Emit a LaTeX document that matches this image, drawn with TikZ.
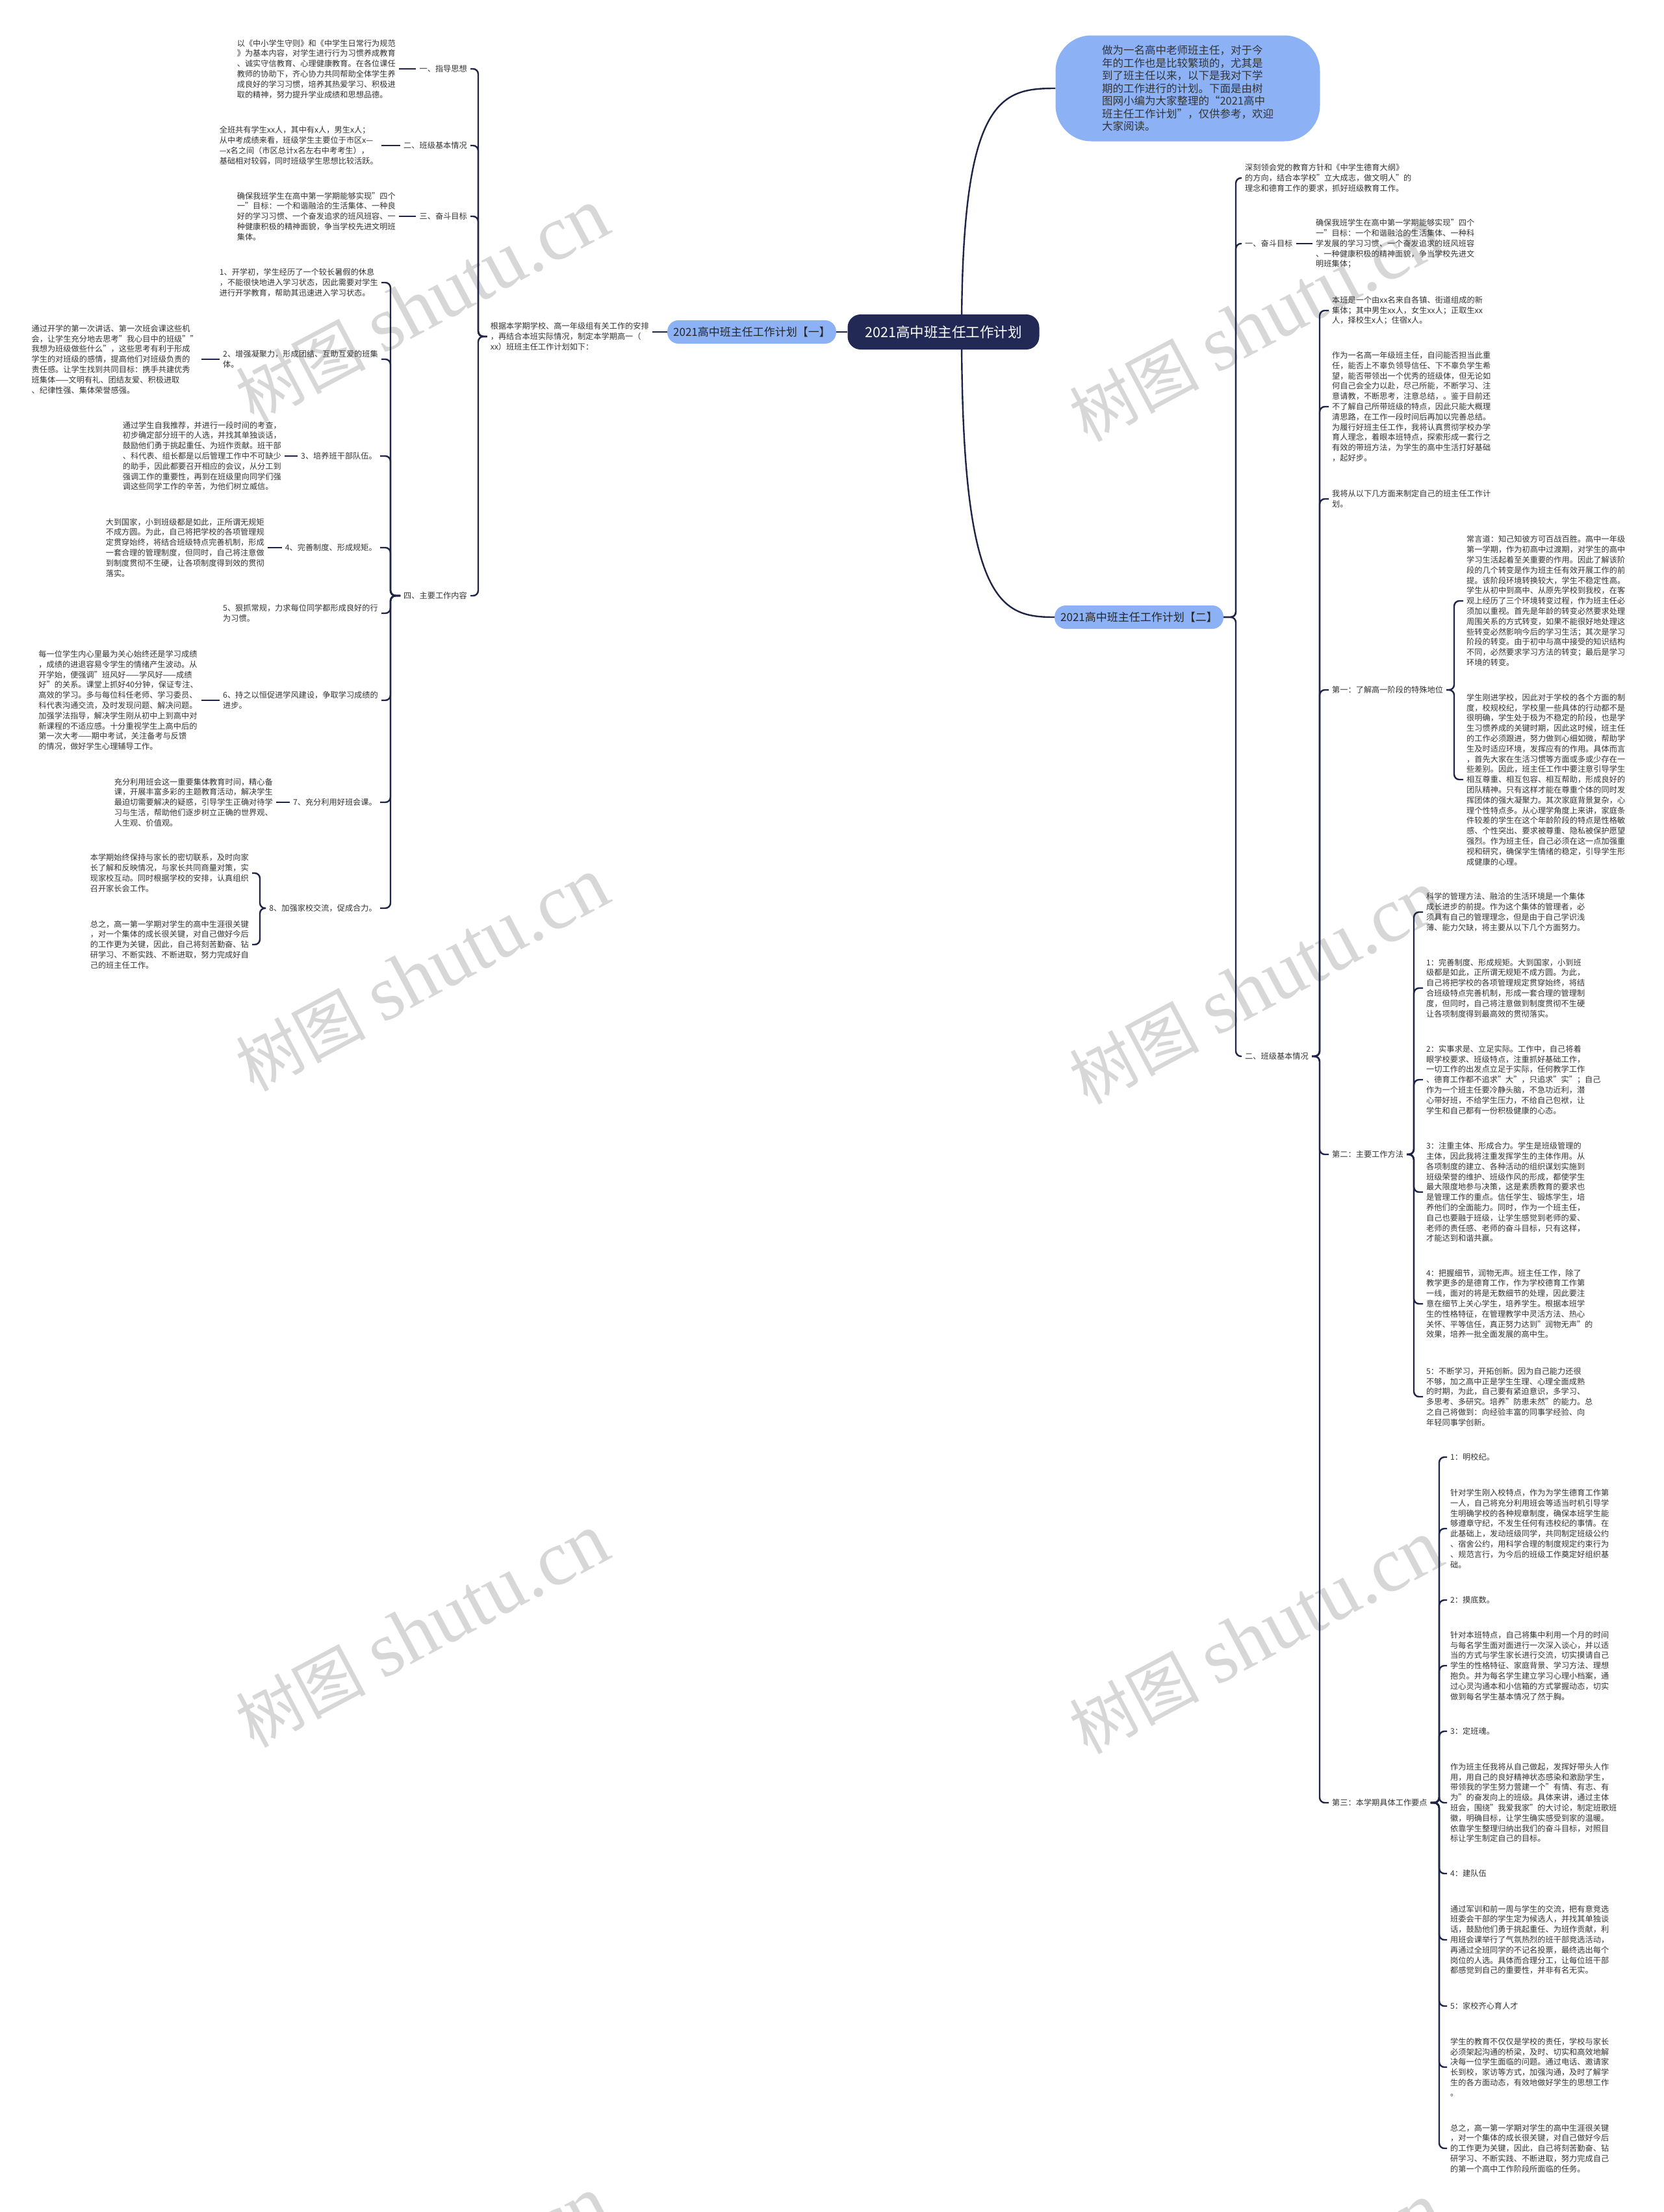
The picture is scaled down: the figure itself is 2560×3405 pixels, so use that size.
\documentclass[tikz,border=0pt]{standalone}
\usepackage{fontspec}
\setmainfont{Noto Sans CJK SC}
\newfontfamily\wmlat{Liberation Serif}
\definecolor{linec}{RGB}{30,36,70}
\definecolor{rootc}{RGB}{33,41,84}
\definecolor{bluec}{RGB}{140,178,245}
\definecolor{txtc}{RGB}{51,51,51}
\definecolor{wmc}{RGB}{215,215,215}
\pgfdeclarelayer{wm}\pgfdeclarelayer{back}\pgfsetlayers{wm,back,main}
\begin{document}
\begin{tikzpicture}[x=1pt,y=-1pt,
  txt/.style={font=\fontsize{12.2}{15.8}\selectfont, text=txtc, align=left, inner xsep=5pt, inner ysep=3pt},
  txtL/.style={txt, anchor=east},
  txtR/.style={txt, anchor=west},
  conn/.style={draw=linec, line width=2.4pt, rounded corners=8pt},
  bluenode/.style={fill=bluec, text=black!85, rounded corners=17pt, minimum height=36pt, inner xsep=9pt, font=\fontsize{17}{20}\selectfont},
  rootnode/.style={fill=rootc, text=white, rounded corners=20pt, minimum height=54pt, minimum width=295pt, font=\fontsize{21.5}{25}\selectfont},
  wmark/.style={text=wmc, rotate=28, inner sep=0pt}]
\useasboundingbox (0,0) rectangle (2560,3405);

% background and watermarks
\begin{pgfonlayer}{wm}
\fill[white] (0,0) rectangle (2560,3405);
\foreach \px/\py in {650/470,650/1500,650/2510,650/3530,1933/500,1933/1520,1933/2520,1933/3540}{
  \node[wmark] at (\px,\py) {\fontsize{100}{100}\selectfont 树图\hspace{25pt}{\wmlat\fontsize{120}{120}\selectfont shutu.cn}};
}
\end{pgfonlayer}

% bus coordinates
\coordinate (bB1) at (736,0);
\coordinate (bB2) at (601,0);
\coordinate (bB3) at (400,0);
\coordinate (bR1) at (1902,0);
\coordinate (bR2) at (2031,0);
\coordinate (bR3) at (2238,0);
\coordinate (bR4) at (2176,0);
\coordinate (bR5) at (2215,0);

% centre
\node[rootnode] (root) at (1452,511) {2021高中班主任工作计划};
\node[bluenode] (N1) at (1157,511) {2021高中班主任工作计划【一】};
\node[bluenode] (N2) at (1753,950) {2021高中班主任工作计划【二】};
\node[fill=bluec, rounded corners=55pt, minimum width=407pt, minimum height=163pt, text=txtc, align=left, font=\fontsize{16.5}{19.5}\selectfont] (bub) at (1828,136) {做为一名高中老师班主任，对于今\\年的工作也是比较繁琐的，尤其是\\到了班主任以来，以下是我对下学\\期的工作进行的计划。下面是由树\\图网小编为大家整理的“2021高中\\班主任工作计划”，仅供参考，欢迎\\大家阅读。};

% left branch
\node[txtL] (L0) at (1004,518) {根据本学期学校、高一年级组有关工作的安排\\，再结合本班实际情况，制定本学期高一（\\xx）班班主任工作计划如下：};

\node[txtL] (LA1) at (724,106) {一、指导思想};
\node[txtL] (LA1c) at (614,106) {以《中小学生守则》和《中学生日常行为规范\\》为基本内容，对学生进行行为习惯养成教育\\、诚实守信教育、心理健康教育。在各位课任\\教师的协助下，齐心协力共同帮助全体学生养\\成良好的学习习惯，培养其热爱学习、积极进\\取的精神，努力提升学业成绩和思想品德。};
\node[txtL] (LA2) at (724,224) {二、班级基本情况};
\node[txtL] (LA2c) at (587,224) {全班共有学生xx人，其中有x人，男生x人；\\从中考成绩来看，班级学生主要位于市区x—\\—x名之间（市区总计x名左右中考考生），\\基础相对较弱，同时班级学生思想比较活跃。};
\node[txtL] (LA3) at (724,333) {三、奋斗目标};
\node[txtL] (LA3c) at (614,333) {确保我班学生在高中第一学期能够实现"四个\\一"目标：一个和谐融洽的生活集体、一种良\\好的学习习惯、一个奋发追求的班风班容、一\\种健康积极的精神面貌，争当学校先进文明班\\集体。};
\node[txtL] (LA4) at (724,917) {四、主要工作内容};

\node[txtL] (I1) at (587,435) {1、开学初，学生经历了一个较长暑假的休息\\，不能很快地进入学习状态，因此需要对学生\\进行开学教育，帮助其迅速进入学习状态。};
\node[txtL] (I2) at (587,553) {2、增强凝聚力，形成团结、互助互爱的班集\\体。};
\node[txtL] (I2c) at (310,553) {通过开学的第一次讲话、第一次班会课这些机\\会，让学生充分地去思考"我心目中的班级""\\我想为班级做些什么"，这些思考有利于形成\\学生的对班级的感情，提高他们对班级负责的\\责任感。让学生找到共同目标：携手共建优秀\\班集体——文明有礼、团结友爱、积极进取\\、纪律性强、集体荣誉感强。};
\node[txtL] (I3) at (585,702) {3、培养班干部队伍。};
\node[txtL] (I3c) at (438,702) {通过学生自我推荐，并进行一段时间的考查，\\初步确定部分班干的人选，并找其单独谈话，\\鼓励他们勇于挑起重任、为班作贡献。班干部\\、科代表、组长都是以后管理工作中不可缺少\\的助手，因此都要召开相应的会议，从分工到\\强调工作的重要性，再到在班级里向同学们强\\调这些同学工作的辛苦，为他们树立威信。};
\node[txtL] (I4) at (585,843) {4、完善制度、形成规矩。};
\node[txtL] (I4c) at (412,843) {大到国家，小到班级都是如此，正所谓无规矩\\不成方圆。为此，自己将把学校的各项管理规\\定贯穿始终，将结合班级特点完善机制，形成\\一套合理的管理制度，但同时，自己将注意做\\到制度贯彻不生硬，让各项制度得到效的贯彻\\落实。};
\node[txtL] (I5) at (587,944) {5、狠抓常规，力求每位同学都形成良好的行\\为习惯。};
\node[txtL] (I6) at (587,1078) {6、持之以恒促进学风建设，争取学习成绩的\\进步。};
\node[txtL] (I6c) at (310,1078) {每一位学生内心里最为关心始终还是学习成绩\\，成绩的进退容易令学生的情绪产生波动。从\\开学始，便强调"班风好——学风好——成绩\\好"的关系。课堂上抓好40分钟，保证专注、\\高效的学习。多与每位科任老师、学习委员、\\科代表沟通交流，及时发现问题、解决问题。\\加强学法指导，解决学生刚从初中上到高中对\\新课程的不适应感。十分重视学生上高中后的\\第一次大考——期中考试，关注备考与反馈\\的情况，做好学生心理辅导工作。};
\node[txtL] (I7) at (585,1235) {7、充分利用好班会课。};
\node[txtL] (I7c) at (425,1235) {充分利用班会这一重要集体教育时间，精心备\\课，开展丰富多彩的主题教育活动，解决学生\\最迫切需要解决的疑惑，引导学生正确对待学\\习与生活，帮助他们逐步树立正确的世界观、\\人生观、价值观。};
\node[txtL] (I8) at (585,1398) {8、加强家校交流，促成合力。};
\node[txtL] (I8a) at (388,1344) {本学期始终保持与家长的密切联系，及时向家\\长了解和反映情况，与家长共同商量对策，实\\现家校互动。同时根据学校的安排，认真组织\\召开家长会工作。};
\node[txtL] (I8b) at (388,1454) {总之，高一第一学期对学生的高中生涯很关键\\，对一个集体的成长很关键，对自己做好今后\\的工作更为关键，因此，自己将刻苦勤奋、钻\\研学习、不断实践、不断进取，努力完成好自\\己的班主任工作。};

% right branch
\node[txtR] (RB1) at (1911,274) {深刻领会党的教育方针和《中学生德育大纲》\\的方向，结合本学校"立大成志，做文明人"的\\理念和德育工作的要求，抓好班级教育工作。};
\node[txtR] (RL1) at (1911,375) {一、奋斗目标};
\node[txtR] (RL1c) at (2020,375) {确保我班学生在高中第一学期能够实现"四个\\一"目标：一个和谐融洽的生活集体、一种科\\学发展的学习习惯、一个奋发追求的班风班容\\、一种健康积极的精神面貌，争当学校先进文\\明班集体；};
\node[txtR] (RL2) at (1911,1626) {二、班级基本情况};

\node[txtR] (RC1) at (2045,478) {本班是一个由xx名来自各镇、街道组成的新\\集体；其中男生xx人，女生xx人；正取生xx\\人，择校生x人；住宿x人。};
\node[txtR] (RC2) at (2045,626) {作为一名高一年级班主任，自问能否担当此重\\任，能否上不辜负领导信任、下不辜负学生希\\望，能否带领出一个优秀的班级体，但无论如\\何自己会全力以赴，尽己所能，不断学习、注\\意请教，不断思考，注意总结，。鉴于目前还\\不了解自己所带班级的特点，因此只能大概理\\清思路，在工作一段时间后再加以完善总结。\\为履行好班主任工作，我将认真贯彻学校办学\\育人理念，着眼本班特点，探索形成一套行之\\有效的带班方法，为学生的高中生活打好基础\\，起好步。};
\node[txtR] (RC3) at (2045,768) {我将从以下几方面来制定自己的班主任工作计\\划。};
\node[txtR] (RC4) at (2045,1062) {第一：了解高一阶段的特殊地位};
\node[txtR] (RC4a) at (2252,925) {常言道：知己知彼方可百战百胜。高中一年级\\第一学期，作为初高中过渡期，对学生的高中\\学习生活起着至关重要的作用。因此了解该阶\\段的几个转变是作为班主任有效开展工作的前\\提。该阶段环境转换较大，学生不稳定性高。\\学生从初中到高中、从原先学校到我校，在客\\观上经历了三个环境转变过程，作为班主任必\\须加以重视。首先是年龄的转变必然要求处理\\周围关系的方式转变，如果不能很好地处理这\\些转变必然影响今后的学习生活；其次是学习\\阶段的转变。由于初中与高中接受的知识结构\\不同，必然要求学习方法的转变；最后是学习\\环境的转变。};
\node[txtR] (RC4b) at (2252,1200) {学生刚进学校，因此对于学校的各个方面的制\\度，校规校纪，学校里一些具体的行动都不是\\很明确，学生处于极为不稳定的阶段，也是学\\生习惯养成的关键时期，因此这时候，班主任\\的工作必须跟进，努力做到心细如微，帮助学\\生及时适应环境，发挥应有的作用。具体而言\\，首先大家在生活习惯等方面或多或少存在一\\些差别。因此，班主任工作中要注意引导学生\\相互尊重、相互包容、相互帮助，形成良好的\\团队精神。只有这样才能在尊重个体的同时发\\挥团体的强大凝聚力。其次家庭背景复杂，心\\理个性特点多。从心理学角度上来讲，家庭条\\件较差的学生在这个年龄阶段的特点是性格敏\\感、个性突出、要求被尊重、隐私被保护愿望\\强烈。作为班主任，自己必须在这一点加强重\\视和研究，确保学生情绪的稳定，引导学生形\\成健康的心理。};
\node[txtR] (RC5) at (2045,1777) {第二：主要工作方法};
\node[txtR] (RC5a) at (2190,1404) {科学的管理方法、融洽的生活环境是一个集体\\成长进步的前提。作为这个集体的管理者，必\\须具有自己的管理理念，但是由于自己学识浅\\薄、能力欠缺，将主要从以下几个方面努力。};
\node[txtR] (RC5b) at (2190,1521) {1：完善制度、形成规矩。大到国家，小到班\\级都是如此，正所谓无规矩不成方圆。为此，\\自己将把学校的各项管理规定贯穿始终，将结\\合班级特点完善机制，形成一套合理的管理制\\度，但同时，自己将注意做到制度贯彻不生硬\\让各项制度得到最高效的贯彻落实。};
\node[txtR] (RC5c) at (2190,1662) {2：实事求是、立足实际。工作中，自己将着\\眼学校要求、班级特点，注重抓好基础工作，\\一切工作的出发点立足于实际，任何教学工作\\、德育工作都不追求"大"，只追求"实"；自己\\作为一个班主任要冷静头脑，不急功近利，潜\\心带好班，不给学生压力，不给自己包袱，让\\学生和自己都有一份积极健康的心态。};
\node[txtR] (RC5d) at (2190,1835) {3：注重主体、形成合力。学生是班级管理的\\主体，因此我将注重发挥学生的主体作用。从\\各项制度的建立、各种活动的组织谋划实施到\\班级荣誉的维护、班级作风的形成，都使学生\\最大限度地参与决策，这是素质教育的要求也\\是管理工作的重点。信任学生、锻炼学生，培\\养他们的全面能力。同时，作为一个班主任，\\自己也要融于班级，让学生感觉到老师的爱、\\老师的责任感、老师的奋斗目标，只有这样，\\才能达到和谐共赢。};
\node[txtR] (RC5e) at (2190,2007) {4：把握细节，润物无声。班主任工作，除了\\教学更多的是德育工作，作为学校德育工作第\\一线，面对的将是无数细节的处理，因此要注\\意在细节上关心学生，培养学生。根据本班学\\生的性格特征，在管理教学中灵活方法、热心\\关怀、平等信任，真正努力达到"润物无声"的\\效果，培养一批全面发展的高中生。};
\node[txtR] (RC5f) at (2190,2150) {5：不断学习，开拓创新。因为自己能力还很\\不够，加之高中正是学生生理、心理全面成熟\\的时期，为此，自己要有紧迫意识，多学习、\\多思考、多研究。培养"防患未然"的能力。总\\之自己将做到：向经验丰富的同事学经验、向\\年轻同事学创新。};
\node[txtR] (RC6) at (2045,2775) {第三：本学期具体工作要点};
\node[txtR] (RC6a) at (2227,2243) {1：明校纪。};
\node[txtR] (RC6b) at (2227,2353) {针对学生刚入校特点，作为为学生德育工作第\\一人，自己将充分利用班会等适当时机引导学\\生明确学校的各种规章制度，确保本班学生能\\够遵章守纪，不发生任何有违校纪的事情。在\\此基础上，发动班级同学，共同制定班级公约\\、宿舍公约，用科学合理的制度规定约束行为\\、规范言行，为今后的班级工作奠定好组织基\\础。};
\node[txtR] (RC6c) at (2227,2463) {2：摸底数。};
\node[txtR] (RC6d) at (2227,2564) {针对本班特点，自己将集中利用一个月的时间\\与每名学生面对面进行一次深入谈心，并以适\\当的方式与学生家长进行交流，切实摸请自己\\学生的性格特征、家庭背景、学习方法、理想\\抱负。并为每名学生建立学习心理小档案，通\\过心灵沟通本和小信箱的方式掌握动态，切实\\做到每名学生基本情况了然于胸。};
\node[txtR] (RC6e) at (2227,2665) {3：定班魂。};
\node[txtR] (RC6f) at (2227,2775) {作为班主任我将从自己做起，发挥好带头人作\\用，用自己的良好精神状态感染和激励学生，\\带领我的学生努力营建一个"有情、有志、有\\为"的奋发向上的班级。具体来讲，通过主体\\班会，围绕"我爱我家"的大讨论，制定班歌班\\徽，明确目标，让学生确实感受到家的温暖。\\依靠学生整理归纳出我们的奋斗目标，对照目\\标让学生制定自己的目标。};
\node[txtR] (RC6g) at (2227,2884) {4：建队伍};
\node[txtR] (RC6h) at (2227,2986) {通过军训和前一周与学生的交流，把有意竞选\\班委会干部的学生定为候选人，并找其单独谈\\话，鼓励他们勇于挑起重任、为班作贡献，利\\用班会课举行了气氛热烈的班干部竞选活动，\\再通过全班同学的不记名投票，最终选出每个\\岗位的人选。具体而合理分工，让每位班干部\\都感觉到自己的重要性，并非有名无实。};
\node[txtR] (RC6i) at (2227,3088) {5：家校齐心育人才};
\node[txtR] (RC6j) at (2227,3182) {学生的教育不仅仅是学校的责任，学校与家长\\必须架起沟通的桥梁，及时、切实和高效地解\\决每一位学生面临的问题。通过电话、邀请家\\长到校，家访等方式，加强沟通，及时了解学\\生的各方面动态，有效地做好学生的思想工作\\。};
\node[txtR] (RC6k) at (2227,3307) {总之，高一第一学期对学生的高中生涯很关键\\，对一个集体的成长很关键，对自己做好今后\\的工作更为关键，因此，自己将刻苦勤奋、钻\\研学习、不断实践、不断进取，努力完成自己\\的第一个高中工作阶段所面临的任务。};

% connectors
\begin{pgfonlayer}{back}
\draw[conn] (1480,511) .. controls (1480,150) and (1540,136) .. (bub.west);
\draw[conn] (1480,511) .. controls (1480,930) and (1540,950) .. (N2.west);
\draw[conn] (root.west) -- (N1.east);
\draw[conn] (N1.west) -- (N1.west -| L0.east);
\foreach \c in {LA1,LA2,LA3,LA4} \draw[conn] (L0.west) -- (L0.west -| bB1) |- (\c.east);
\draw[conn] (LA1.west) -- (LA1c.east);
\draw[conn] (LA2.west) -- (LA2c.east);
\draw[conn] (LA3.west) -- (LA3c.east);
\foreach \c in {I1,I2,I3,I4,I5,I6,I7,I8} \draw[conn] (LA4.west) -- (LA4.west -| bB2) |- (\c.east);
\draw[conn] (I2.west) -- (I2c.east);
\draw[conn] (I3.west) -- (I3c.east);
\draw[conn] (I4.west) -- (I4c.east);
\draw[conn] (I6.west) -- (I6c.east);
\draw[conn] (I7.west) -- (I7c.east);
\foreach \c in {I8a,I8b} \draw[conn] (I8.west) -- (I8.west -| bB3) |- (\c.east);
\foreach \c in {RB1,RL1,RL2} \draw[conn] (N2.east) -- (N2.east -| bR1) |- (\c.west);
\draw[conn] (RL1.east) -- (RL1c.west);
\foreach \c in {RC1,RC2,RC3,RC4,RC5,RC6} \draw[conn] (RL2.east) -- (RL2.east -| bR2) |- (\c.west);
\foreach \c in {RC4a,RC4b} \draw[conn] (RC4.east) -- (RC4.east -| bR3) |- (\c.west);
\foreach \c in {RC5a,RC5b,RC5c,RC5d,RC5e,RC5f} \draw[conn] (RC5.east) -- (RC5.east -| bR4) |- (\c.west);
\foreach \c in {RC6a,RC6b,RC6c,RC6d,RC6e,RC6f,RC6g,RC6h,RC6i,RC6j,RC6k} \draw[conn] (RC6.east) -- (RC6.east -| bR5) |- (\c.west);
\end{pgfonlayer}
\end{tikzpicture}
\end{document}
